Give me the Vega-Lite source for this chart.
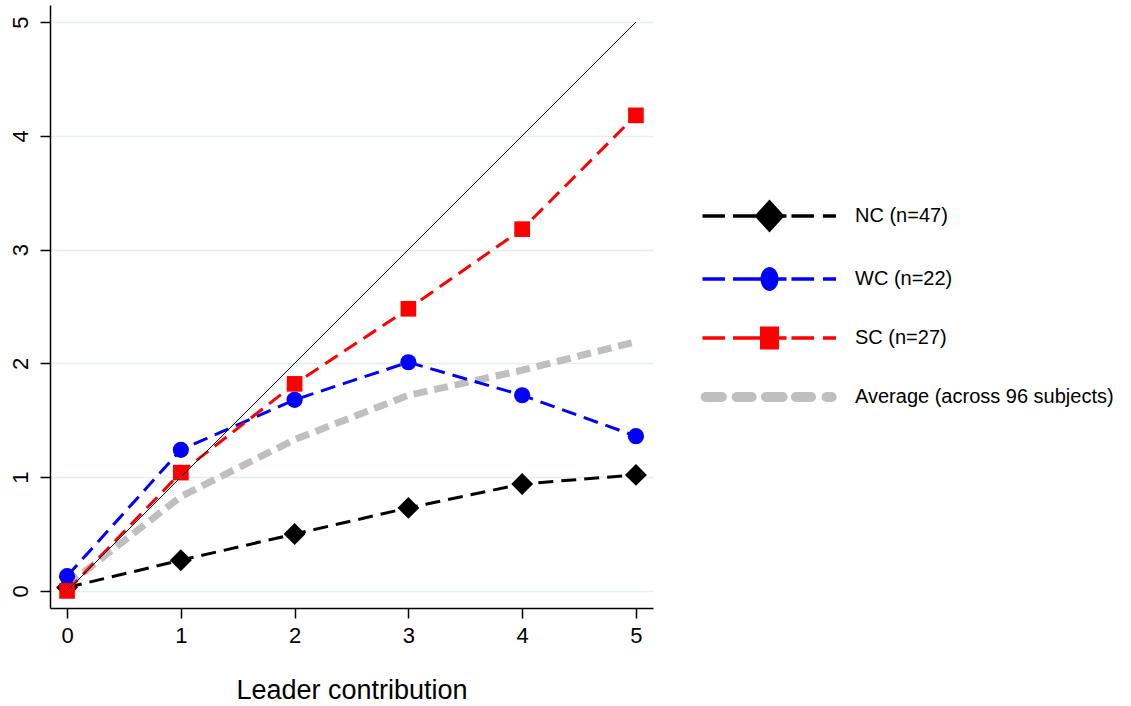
{
  "$schema": "https://vega.github.io/schema/vega-lite/v6.json",
  "width": 603,
  "height": 603,
  "autosize": {"type": "none"},
  "padding": {"left": 50, "top": 5, "right": 478, "bottom": 98},
  "background": "white",
  "config": {
    "view": {"stroke": null},
    "font": "Liberation Sans",
    "axis": {
      "domainColor": "black",
      "domainWidth": 1.5,
      "tickColor": "black",
      "tickWidth": 1.5,
      "tickSize": 10,
      "labelColor": "black",
      "labelFont": "Liberation Sans",
      "labelFontSize": 22,
      "titleFont": "Liberation Sans",
      "titleColor": "black",
      "titleFontWeight": "normal"
    }
  },
  "datasets": {
    "main": [
      {"series": "NC (n=47)", "lc": 0, "val": 0.03},
      {"series": "NC (n=47)", "lc": 1, "val": 0.27},
      {"series": "NC (n=47)", "lc": 2, "val": 0.50},
      {"series": "NC (n=47)", "lc": 3, "val": 0.73},
      {"series": "NC (n=47)", "lc": 4, "val": 0.94},
      {"series": "NC (n=47)", "lc": 5, "val": 1.02},
      {"series": "WC (n=22)", "lc": 0, "val": 0.13},
      {"series": "WC (n=22)", "lc": 1, "val": 1.24},
      {"series": "WC (n=22)", "lc": 2, "val": 1.68},
      {"series": "WC (n=22)", "lc": 3, "val": 2.01},
      {"series": "WC (n=22)", "lc": 4, "val": 1.72},
      {"series": "WC (n=22)", "lc": 5, "val": 1.36},
      {"series": "SC (n=27)", "lc": 0, "val": 0.0},
      {"series": "SC (n=27)", "lc": 1, "val": 1.04},
      {"series": "SC (n=27)", "lc": 2, "val": 1.82},
      {"series": "SC (n=27)", "lc": 3, "val": 2.48},
      {"series": "SC (n=27)", "lc": 4, "val": 3.18},
      {"series": "SC (n=27)", "lc": 5, "val": 4.18},
      {"series": "Average (across 96 subjects)", "lc": 0, "val": 0.05},
      {"series": "Average (across 96 subjects)", "lc": 1, "val": 0.83},
      {"series": "Average (across 96 subjects)", "lc": 2, "val": 1.33},
      {"series": "Average (across 96 subjects)", "lc": 3, "val": 1.72},
      {"series": "Average (across 96 subjects)", "lc": 4, "val": 1.94},
      {"series": "Average (across 96 subjects)", "lc": 5, "val": 2.19}
    ],
    "diag": [
      {"lc": 0, "val": 0},
      {"lc": 5, "val": 5}
    ]
  },
  "encoding": {
    "x": {
      "field": "lc", "type": "quantitative",
      "scale": {"domain": [-0.15, 5.15], "nice": false, "zero": false},
      "axis": {
        "values": [0, 1, 2, 3, 4, 5],
        "grid": false,
        "labelPadding": 7,
        "labelFontSize": 22,
        "title": "Leader contribution",
        "titleFontSize": 27,
        "titleBaseline": "alphabetic",
        "titleY": 90
      }
    },
    "y": {
      "field": "val", "type": "quantitative",
      "scale": {"domain": [-0.15, 5.15], "nice": false, "zero": false},
      "axis": {
        "values": [0, 1, 2, 3, 4, 5],
        "grid": true,
        "gridColor": "#e6eeef",
        "gridWidth": 1.5,
        "labelAngle": -90,
        "labelAlign": "center",
        "labelBaseline": "alphabetic",
        "labelPadding": 13,
        "labelFontSize": 22,
        "title": null
      }
    }
  },
  "layer": [
    {
      "data": {"name": "main"},
      "transform": [{"filter": "datum.series === 'Average (across 96 subjects)'"}],
      "mark": {"type": "line", "color": "#bfbfbf", "strokeWidth": 7, "strokeDash": [14, 7]}
    },
    {
      "data": {"name": "main"},
      "transform": [{"filter": "datum.series === 'NC (n=47)'"}],
      "mark": {"type": "line", "color": "black", "strokeWidth": 3, "strokeDash": [15, 8]}
    },
    {
      "data": {"name": "main"},
      "transform": [{"filter": "datum.series === 'NC (n=47)'"}],
      "mark": {"type": "point", "shape": "diamond", "filled": true, "size": 480, "color": "black", "opacity": 1}
    },
    {
      "data": {"name": "main"},
      "transform": [{"filter": "datum.series === 'WC (n=22)'"}],
      "mark": {"type": "line", "color": "#0000ff", "strokeWidth": 3, "strokeDash": [15, 8]}
    },
    {
      "data": {"name": "main"},
      "transform": [{"filter": "datum.series === 'WC (n=22)'"}],
      "mark": {"type": "point", "shape": "circle", "filled": true, "size": 262, "color": "#0000ff", "opacity": 1}
    },
    {
      "data": {"name": "main"},
      "transform": [{"filter": "datum.series === 'SC (n=27)'"}],
      "mark": {"type": "line", "color": "#ff0000", "strokeWidth": 3, "strokeDash": [15, 8]}
    },
    {
      "data": {"name": "main"},
      "transform": [{"filter": "datum.series === 'SC (n=27)'"}],
      "mark": {"type": "point", "shape": "square", "filled": true, "size": 245, "color": "#ff0000", "opacity": 1}
    },
    {
      "data": {"name": "diag"},
      "mark": {"type": "line", "color": "black", "strokeWidth": 1}
    },
    {
      "data": {"name": "main"},
      "mark": {"type": "point", "filled": true, "opacity": 0, "size": 10},
      "encoding": {
        "color": {
          "field": "series", "type": "nominal",
          "scale": {
            "domain": ["NC (n=47)", "WC (n=22)", "SC (n=27)", "Average (across 96 subjects)"],
            "range": ["#000000", "#0000ff", "#ff0000", "#bfbfbf"]
          },
          "legend": {
            "title": null,
            "orient": "none",
            "legendX": 703,
            "legendY": 194.5,
            "padding": 0,
            "symbolSize": 1089,
            "symbolStrokeWidth": 0,
            "symbolOpacity": 1,
            "labelOffset": 69,
            "rowPadding": 30,
            "labelFont": "Liberation Sans",
            "labelFontSize": 20,
            "labelColor": "black",
            "labelLimit": 400
          }
        },
        "shape": {
          "field": "series", "type": "nominal",
          "scale": {
            "domain": ["NC (n=47)", "WC (n=22)", "SC (n=27)", "Average (across 96 subjects)"],
            "range": [
              "M-4.06,-0.1H-2.7V0.1H-4.06Z M-2.21,-0.1H1.03V0.1H-2.21Z M-0.91,0L0,-1L0.91,0L0,1Z M1.33,-0.1H2.7V0.1H1.33Z M3.24,-0.1H4.03V0.1H3.24Z",
              "M-4.06,-0.1H-2.7V0.1H-4.06Z M-2.21,-0.1H1.03V0.1H-2.21Z M-0.545,0A0.545,0.727 0 1,1 0.545,0A0.545,0.727 0 1,1 -0.545,0Z M1.33,-0.1H2.7V0.1H1.33Z M3.24,-0.1H4.03V0.1H3.24Z",
              "M-4.06,-0.1H-2.7V0.1H-4.06Z M-2.21,-0.1H1.03V0.1H-2.21Z M-0.576,-0.697H0.576V0.697H-0.576Z M1.33,-0.1H2.7V0.1H1.33Z M3.24,-0.1H4.03V0.1H3.24Z",
              "M-3.87,-0.3H-2.89A0.3,0.3 0 0,1 -2.89,0.3H-3.87A0.3,0.3 0 0,1 -3.87,-0.3Z M-1.99,-0.3H-1.08A0.3,0.3 0 0,1 -1.08,0.3H-1.99A0.3,0.3 0 0,1 -1.99,-0.3Z M-0.22,-0.3H0.8A0.3,0.3 0 0,1 0.8,0.3H-0.22A0.3,0.3 0 0,1 -0.22,-0.3Z M1.6,-0.3H2.52A0.3,0.3 0 0,1 2.52,0.3H1.6A0.3,0.3 0 0,1 1.6,-0.3Z M3.46,-0.3H3.77A0.3,0.3 0 0,1 3.77,0.3H3.46A0.3,0.3 0 0,1 3.46,-0.3Z"
            ]
          },
          "legend": {
            "title": null,
            "orient": "none",
            "legendX": 703,
            "legendY": 194.5,
            "padding": 0,
            "symbolSize": 1089,
            "symbolStrokeWidth": 0,
            "symbolOpacity": 1,
            "labelOffset": 69,
            "rowPadding": 30,
            "labelFont": "Liberation Sans",
            "labelFontSize": 20,
            "labelColor": "black",
            "labelLimit": 400
          }
        }
      }
    }
  ]
}
